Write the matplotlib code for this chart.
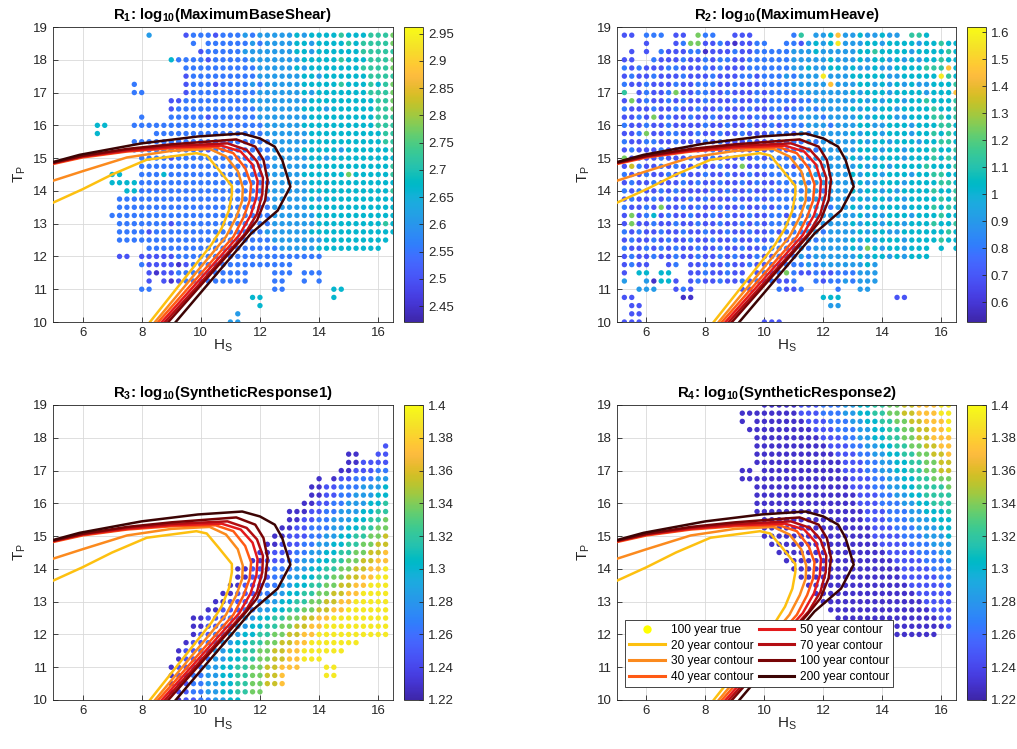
import numpy as np
import matplotlib
matplotlib.use('Agg')
import matplotlib.pyplot as plt
from matplotlib.colors import LinearSegmentedColormap
from matplotlib.lines import Line2D
from matplotlib.ticker import FuncFormatter

plt.rcParams['font.family'] = ['Liberation Sans', 'DejaVu Sans']
plt.rcParams['mathtext.fontset'] = 'custom'
plt.rcParams['mathtext.rm'] = 'Liberation Sans'
plt.rcParams['mathtext.it'] = 'Liberation Sans:italic'
plt.rcParams['mathtext.bf'] = 'Liberation Sans:bold'

# ---------------- data ----------------
HS_GRID = np.arange(5.25, 16.51, 0.25)           # 46 columns
TP_ROWS = np.arange(18.75, 9.99, -0.25)          # 36 rows (R1, R2)

# level tables (value of each colour code)
R1_LEVELS = [2.45, 2.50, 2.555, 2.61, 2.665, 2.72, 2.77, 2.83, 2.88, 2.935]
R2_LEVELS = [0.58, 0.69, 0.80, 0.91, 1.02, 1.13, 1.24, 1.35, 1.46, 1.57]
R3_LEVELS = [1.229, 1.247, 1.265, 1.283, 1.301, 1.319, 1.337, 1.355, 1.373, 1.391]
R4_LEVELS = [1.229, 1.247, 1.265, 1.283, 1.301, 1.319, 1.337, 1.355, 1.373, 1.391]

# R1 grid: one string per TP row (top = 18.75), one char per HS column, '.' = no point
R1_ROWS = [
    ".......... ..3....122 2122232333 3343444454 445556",
    ".......... ........2. 2222223233 3344344445 455556",
    ".......... .........1 2222233333 3344344444 455555",
    ".......... .....42222 1222223333 3334444454 445556",
    ".......... .......222 2222222333 3343444444 455556",
    ".......... .......122 2222222333 3334434444 445555",
    ".......... 2......122 2122223233 3334444454 445456",
    ".......... 22.....122 2222222333 3334344444 445556",
    ".......... .....11222 2222223333 3333444444 444556",
    ".......... .....12222 2222222333 3334443444 444556",
    ".......... .2...22222 1222222333 3333444444 444555",
    ".....44... 2222222222 2222222233 3334444444 444555",
    ".....4.... ...2222222 2222222233 3333444444 444455",
    ".......... 2222222222 2222222223 3333444444 444455",
    ".......... 2222222222 1222222223 3334444434 444445",
    ".......... .222212222 2222222223 3333443444 444444",
    ".......... .222222222 2222222223 3333444444 444445",
    ".......44. .222422222 2222222233 3334444446 444445",
    ".......444 4222222222 2222222223 3333444444 444444",
    ".........4 4222222222 2222222233 3333444444 444445",
    "........22 2222222222 2222222223 3333434444 444444",
    "........22 2222222222 2222222223 3333444444 444444",
    ".......222 2222222222 2222222223 3333344444 444444",
    "........22 2222212222 2222222223 3333344444 444454",
    "........22 2212222222 2222222233 3333444444 444444",
    "........22 2222222222 2222222223 3333334444 44444.",
    ".......... ..22222222 2222222222 3333344444 4444..",
    "........11 .111112222 2222222222 222222.... ......",
    ".......... .211110122 2222222222 22........ ......",
    ".......... ..10112222 222222...2 22.222.... ......",
    ".......... ..1.101222 222222...2 2..2.2.... ......",
    ".......... .22....... .........2 2......44. ......",
    ".......... .......... ......44.. .......4.. ......",
    ".......... .......... .......4.. .......... ......",
    ".......... .......... ....3..... .......... ......",
    ".......... .......... ...33..... .......... ......",
]

R2_ROWS = [
    "11.222.11. 622..111.. ...25.3348 33433433.5 54....",
    "...1...126 6112101122 ..22134349 3334434444 344544",
    ".1.1.21112 2011121122 2223334333 3344544443 444454",
    "11..211121 1212211222 2223333343 3343443434 344544",
    "2121112211 1212111222 2223343344 3433433444 455584",
    "1211211121 1121112212 2232333933 3444443344 444954",
    "2112111211 2221121112 2223333383 3344343434 334445",
    "5.12112611 2211211121 2222333333 3434443444 434448",
    "1612112121 1211121121 2221223333 3343434434 454445",
    "2111211211 2112111211 2212232333 3434344344 445445",
    "1121612112 1121112121 1222333233 3343444334 445545",
    "2112112111 1211211211 2122233323 3344334443 444554",
    "1126112211 2112112111 2221323333 3434434443 445454",
    "2112211211 1212111211 2222232333 3343443444 344554",
    "1211121121 1121211121 2212232333 3344434434 445445",
    "6121121112 1121112121 2222323333 3434344434 445454",
    "1721121211 2112116112 2221223333 3343443444 454445",
    "2112112121 1211211211 2222233333 3434434443 445544",
    "1211211121 2112112121 1222323333 3343344434 444554",
    "2121121211 1121211211 2122233233 3434434344 445445",
    "1211212112 1211121121 2222323333 3343443434 444545",
    "2112161121 2112112112 1222233323 3434344434 445454",
    "1612412112 1121211211 2212233333 3343434443 444544",
    "1611211211 2112112121 2222323333 3434434434 445445",
    "2121121121 1211211211 2122233233 3343443344 444454",
    "1211212112 1121121121 2212232333 3434344434 444544",
    "2112121211 2112112112 2222323333 3436434434 44.4.4",
    "1211211211 2112121121 1222323333 3343443434 44....",
    "1211..12.1 1211211211 2122232333 33343..... ......",
    "1.44.44..1 1211211.12 1262112112 22333..... ......",
    "3..30441.1 2112112121 2112..2122 32333..... ......",
    "..333..121 ......11.. .2112....2 ..33...... ......",
    "11......00 .......... .......444 .......11. ......",
    ".11....... .......... ........33 .......... ......",
    ".11....... .......... .......... .......... ......",
    "111....... .........1 11........ .......... ......",
]

# R3, R4: (TP, first HS column index, colour codes of consecutive columns)
R3_ROWS = [
    (17.75, 44, "1"),
    (17.50, 39, "00..11"),
    (17.25, 39, "001111"),
    (17.00, 38, "0011122"),
    (16.75, 35, "0.01122233"),
    (16.50, 34, "00112223334"),
    (16.25, 34, "00112233344"),
    (16.00, 33, "001122333445"),
    (15.75, 31, "00011223334455"),
    (15.50, 31, "00112233344556"),
    (15.25, 30, "001122233445566"),
    (15.00, 29, "0011122334455667"),
    (14.75, 28, "00111223344556677"),
    (14.50, 27, "001112233445566778"),
    (14.25, 26, "0011122334455667788"),
    (14.00, 24, "001112223344556677889"),
    (13.75, 24, "001112233445566778899"),
    (13.50, 23, "0011122334455667788999"),
    (13.25, 22, "00111223344556677889999"),
    (13.00, 21, "001112233445566778899999"),
    (12.75, 20, "0011122334455667788999999"),
    (12.50, 18, "001112233445566778899999999"),
    (12.25, 18, "001122334455667788999999999"),
    (12.00, 18, "011223344556677889999999999"),
    (11.75, 17, "011223344556677889999999"),
    (11.50, 16, "01122334455667788999999"),
    (11.25, 16, "01122334455667788999"),
    (11.00, 15, "011223344556677888...99"),
    (10.75, 15, "0112233445566778.....99"),
    (10.50, 15, "0112233445566778"),
    (10.25, 15, "0112233445566"),
    (10.00, 16, "011223344"),
]

R4_ROWS = [
    (19.00, 19, "00000111222334455667788899"),
    (18.75, 16, "00000000111222334455667788899"),
    (18.50, 16, "0.000000011122233445566778889"),
    (18.25, 17, "0000000001112223344556677889"),
    (18.00, 18, "000000000111223344556677888"),
    (17.75, 18, "000000000011122334455667788"),
    (17.50, 18, "000000000001112233445566778"),
    (17.25, 18, "000000000000111223344556677"),
    (17.00, 16, "00.00000000000111223344556677"),
    (16.75, 16, "00000000000000011122334455666"),
    (16.50, 18, "000000000000011122334455556"),
    (16.25, 18, "000000000000001112233445555"),
    (16.00, 18, "000000000000001112223344555"),
    (15.75, 18, "000000000000000111222334445"),
    (15.50, 19, "00000000000000111222333444"),
    (15.25, 19, "00000000000000011122233344"),
    (15.00, 19, "00000000000000011112223334"),
    (14.75, 20, "0000000000000001111222333"),
    (14.50, 21, "000000000000000111122233"),
    (14.25, 22, "00000000000000011112223"),
    (14.00, 23, "0000000000000001111222"),
    (13.75, 24, "000000000000001111122"),
    (13.50, 25, "00000000000000111112"),
    (13.25, 26, "0000000000000011111"),
    (13.00, 27, "000000000000001111"),
    (12.75, 28, "00000000000000111"),
    (12.50, 29, "0000000000000011"),
    (12.25, 30, "000000000000001"),
    (12.00, 32, "00000000000"),
]

# environmental contours (visible part), HS and TP vertices
CONTOUR_LABELS = ["20 year contour", "30 year contour", "40 year contour", "50 year contour",
                  "70 year contour", "100 year contour", "200 year contour"]
C20_HS = [5.0, 6.0, 7.0, 8.17, 9.85, 10.2, 10.6, 11.05, 11.05, 10.95, 10.7, 10.35, 8.28]
C20_TP = [13.64, 14.05, 14.5, 14.95, 15.15, 15.08, 14.65, 14.15, 13.9, 13.4, 12.85, 12.35, 10.0]
C30_HS = [5.0, 6.0, 7.5, 9.0, 10.3, 10.85, 11.25, 11.42, 11.4, 11.2, 10.85, 8.45]
C30_TP = [14.31, 14.6, 15.02, 15.22, 15.28, 15.05, 14.6, 14.1, 13.7, 13.2, 12.6, 10.0]
C40_HS = [5.0, 6.0, 7.5, 9.0, 10.5, 11.1, 11.5, 11.7, 11.65, 11.45, 11.1, 8.56]
C40_TP = [14.82, 15.02, 15.2, 15.3, 15.33, 15.15, 14.7, 14.2, 13.7, 13.2, 12.6, 10.0]
C50_HS = [5.0, 6.0, 7.5, 9.0, 10.7, 11.35, 11.75, 11.92, 11.88, 11.68, 11.3, 8.68]
C50_TP = [14.84, 15.04, 15.22, 15.33, 15.38, 15.2, 14.8, 14.3, 13.8, 13.25, 12.65, 10.0]
C70_HS = [5.0, 6.0, 7.5, 9.0, 10.9, 11.55, 11.9, 12.1, 12.08, 11.9, 11.5, 8.79]
C70_TP = [14.85, 15.06, 15.25, 15.37, 15.45, 15.25, 14.9, 14.4, 13.9, 13.3, 12.7, 10.0]
C100_HS = [5.0, 6.0, 7.5, 9.0, 11.2, 11.84, 12.12, 12.26, 12.18, 11.9, 11.45, 8.9]
C100_TP = [14.86, 15.07, 15.28, 15.42, 15.57, 15.35, 14.94, 14.33, 13.72, 13.1, 12.6, 10.0]
C200_HS = [5.0, 5.9, 8.0, 9.9, 11.4, 12.0, 12.5, 12.75, 13.03, 12.6, 11.7, 9.15]
C200_TP = [14.88, 15.1, 15.45, 15.66, 15.75, 15.6, 15.35, 14.95, 14.13, 13.4, 12.7, 10.0]
CONTOURS_HS = [C20_HS, C30_HS, C40_HS, C50_HS, C70_HS, C100_HS, C200_HS]
CONTOURS_TP = [C20_TP, C30_TP, C40_TP, C50_TP, C70_TP, C100_TP, C200_TP]
CONTOUR_COLORS = ['#FDC010', '#FB8A1E', '#FF5A14', '#E41A1C', '#B40D12', '#780406', '#3C0404']

TITLES = [r'$\mathbf{R_1}$: log$_{\mathbf{10}}$(MaximumBaseShear)',
          r'$\mathbf{R_2}$: log$_{\mathbf{10}}$(MaximumHeave)',
          r'$\mathbf{R_3}$: log$_{\mathbf{10}}$(SyntheticResponse1)',
          r'$\mathbf{R_4}$: log$_{\mathbf{10}}$(SyntheticResponse2)']
CLIMS = [(2.421, 2.962), (0.526, 1.62), (1.22, 1.40), (1.22, 1.40)]
CTICKS = [[2.45, 2.5, 2.55, 2.6, 2.65, 2.7, 2.75, 2.8, 2.85, 2.9, 2.95],
          [0.6, 0.7, 0.8, 0.9, 1.0, 1.1, 1.2, 1.3, 1.4, 1.5, 1.6],
          [1.22, 1.24, 1.26, 1.28, 1.30, 1.32, 1.34, 1.36, 1.38, 1.40],
          [1.22, 1.24, 1.26, 1.28, 1.30, 1.32, 1.34, 1.36, 1.38, 1.40]]

# ---------------- parula colormap ----------------
PARULA = [
    [0.2422, 0.1504, 0.6603], [0.2504, 0.1650, 0.7076], [0.2578, 0.1818, 0.7511], [0.2647, 0.1978, 0.7952],
    [0.2706, 0.2147, 0.8364], [0.2751, 0.2342, 0.8710], [0.2783, 0.2559, 0.8991], [0.2803, 0.2782, 0.9221],
    [0.2813, 0.3006, 0.9414], [0.2810, 0.3228, 0.9579], [0.2795, 0.3447, 0.9717], [0.2760, 0.3667, 0.9829],
    [0.2699, 0.3892, 0.9906], [0.2602, 0.4123, 0.9952], [0.2440, 0.4358, 0.9988], [0.2206, 0.4603, 0.9973],
    [0.1963, 0.4847, 0.9892], [0.1834, 0.5074, 0.9798], [0.1786, 0.5289, 0.9682], [0.1764, 0.5499, 0.9520],
    [0.1687, 0.5703, 0.9359], [0.1540, 0.5902, 0.9218], [0.1460, 0.6091, 0.9079], [0.1380, 0.6276, 0.8973],
    [0.1248, 0.6459, 0.8883], [0.1113, 0.6635, 0.8763], [0.0952, 0.6798, 0.8598], [0.0689, 0.6948, 0.8394],
    [0.0297, 0.7082, 0.8163], [0.0036, 0.7203, 0.7917], [0.0067, 0.7312, 0.7660], [0.0433, 0.7411, 0.7394],
    [0.0964, 0.7500, 0.7120], [0.1408, 0.7584, 0.6842], [0.1717, 0.7670, 0.6554], [0.1938, 0.7758, 0.6251],
    [0.2161, 0.7843, 0.5923], [0.2470, 0.7918, 0.5567], [0.2906, 0.7973, 0.5188], [0.3406, 0.8008, 0.4789],
    [0.3909, 0.8029, 0.4354], [0.4456, 0.8024, 0.3909], [0.5044, 0.7993, 0.3480], [0.5616, 0.7942, 0.3045],
    [0.6174, 0.7876, 0.2612], [0.6720, 0.7793, 0.2227], [0.7242, 0.7698, 0.1910], [0.7738, 0.7598, 0.1646],
    [0.8203, 0.7498, 0.1535], [0.8634, 0.7406, 0.1596], [0.9035, 0.7330, 0.1774], [0.9393, 0.7288, 0.2100],
    [0.9728, 0.7298, 0.2394], [0.9956, 0.7434, 0.2371], [0.9970, 0.7659, 0.2199], [0.9952, 0.7893, 0.2028],
    [0.9892, 0.8136, 0.1885], [0.9786, 0.8386, 0.1766], [0.9676, 0.8639, 0.1643], [0.9610, 0.8890, 0.1537],
    [0.9597, 0.9135, 0.1423], [0.9628, 0.9373, 0.1265], [0.9691, 0.9606, 0.1064], [0.9769, 0.9839, 0.0805]]
parula = LinearSegmentedColormap.from_list('parula', PARULA, N=256)


def grid_points(rows, levels):
    xs, ys, vs = [], [], []
    for j, row in enumerate(rows):
        s = row.replace(' ', '')
        for k, c in enumerate(s[:len(HS_GRID)]):
            if c != '.':
                xs.append(HS_GRID[k]); ys.append(TP_ROWS[j]); vs.append(levels[int(c)])
    return xs, ys, vs


def start_points(rows, levels):
    xs, ys, vs = [], [], []
    for tp, k0, s in rows:
        for i, c in enumerate(s):
            k = k0 + i
            if c != '.' and k < len(HS_GRID):
                xs.append(HS_GRID[k]); ys.append(tp); vs.append(levels[int(c)])
    return xs, ys, vs


PANELS = [grid_points(R1_ROWS, R1_LEVELS), grid_points(R2_ROWS, R2_LEVELS),
          start_points(R3_ROWS, R3_LEVELS), start_points(R4_ROWS, R4_LEVELS)]

# ---------------- figure ----------------
W, H = 1017, 749
fig = plt.figure(figsize=(W / 100, H / 100), dpi=100)
DARK = (0.15, 0.15, 0.15)

ax_px = [(53, 27, 340, 295), (617, 27, 339, 295), (53, 405, 340, 295), (617, 405, 339, 295)]
cb_px = [(404, 27, 19, 295), (967, 27, 19, 295), (404, 405, 19, 295), (967, 405, 19, 295)]


def frac(b):
    x, y, w, h = b
    return [x / W, 1 - (y + h) / H, w / W, h / H]


def gfmt(v, pos):
    return ('%.2f' % v).rstrip('0').rstrip('.')


axes = []
for i in range(4):
    ax = fig.add_axes(frac(ax_px[i]))
    cax = fig.add_axes(frac(cb_px[i]))
    xs, ys, vs = PANELS[i]
    sc = ax.scatter(xs, ys, c=vs, cmap=parula, vmin=CLIMS[i][0], vmax=CLIMS[i][1],
                    s=15, linewidths=0, zorder=2)
    for hs, tp, col in zip(CONTOURS_HS, CONTOURS_TP, CONTOUR_COLORS):
        ax.plot(hs, tp, color=col, lw=1.8, zorder=3)
    ax.set_xlim(5, 16.5)
    ax.set_ylim(10, 19)
    ax.set_xticks([6, 8, 10, 12, 14, 16])
    ax.set_yticks(range(10, 20))
    ax.grid(True, color=(0.85, 0.85, 0.85), lw=0.6, zorder=0)
    ax.set_axisbelow(True)
    ax.tick_params(direction='in', length=3.5, width=0.6, color=DARK, labelcolor=DARK,
                   labelsize=9.5, top=False, right=False)
    for sp in ax.spines.values():
        sp.set_color(DARK)
        sp.set_linewidth(0.6)
    ax.set_xlabel(r'H$_\mathrm{S}$', fontsize=11, color=DARK, labelpad=-1)
    ax.set_ylabel(r'T$_\mathrm{P}$', fontsize=11, color=DARK, labelpad=4)
    ax.set_title(TITLES[i], fontsize=10.8, fontweight='bold', pad=6)
    cb = fig.colorbar(sc, cax=cax)
    cb.set_ticks(CTICKS[i])
    cb.ax.yaxis.set_major_formatter(FuncFormatter(gfmt))
    cb.ax.tick_params(direction='in', length=3, width=0.6, color=DARK, labelcolor=DARK,
                      labelsize=9.5)
    cb.outline.set_edgecolor(DARK)
    cb.outline.set_linewidth(0.6)
    axes.append(ax)

# legend in the fourth panel
handles = [Line2D([], [], ls='none', marker='o', markersize=6, markerfacecolor='#FFFF00',
                  markeredgecolor='none')]
for col in CONTOUR_COLORS:
    handles.append(Line2D([], [], color=col, lw=2.2))
labels = ["100 year true"] + CONTOUR_LABELS
leg = axes[3].legend(handles, labels, ncol=2, loc='lower left', bbox_to_anchor=(0.024, 0.044),
                     borderaxespad=0, fontsize=8.6, frameon=True, fancybox=False, framealpha=1,
                     edgecolor=DARK, handlelength=3.0, handletextpad=0.45, columnspacing=0.45,
                     labelspacing=0.3, borderpad=0.35)
leg.get_frame().set_linewidth(0.6)
leg.set_zorder(10)

fig.savefig('out.png', dpi=100)
